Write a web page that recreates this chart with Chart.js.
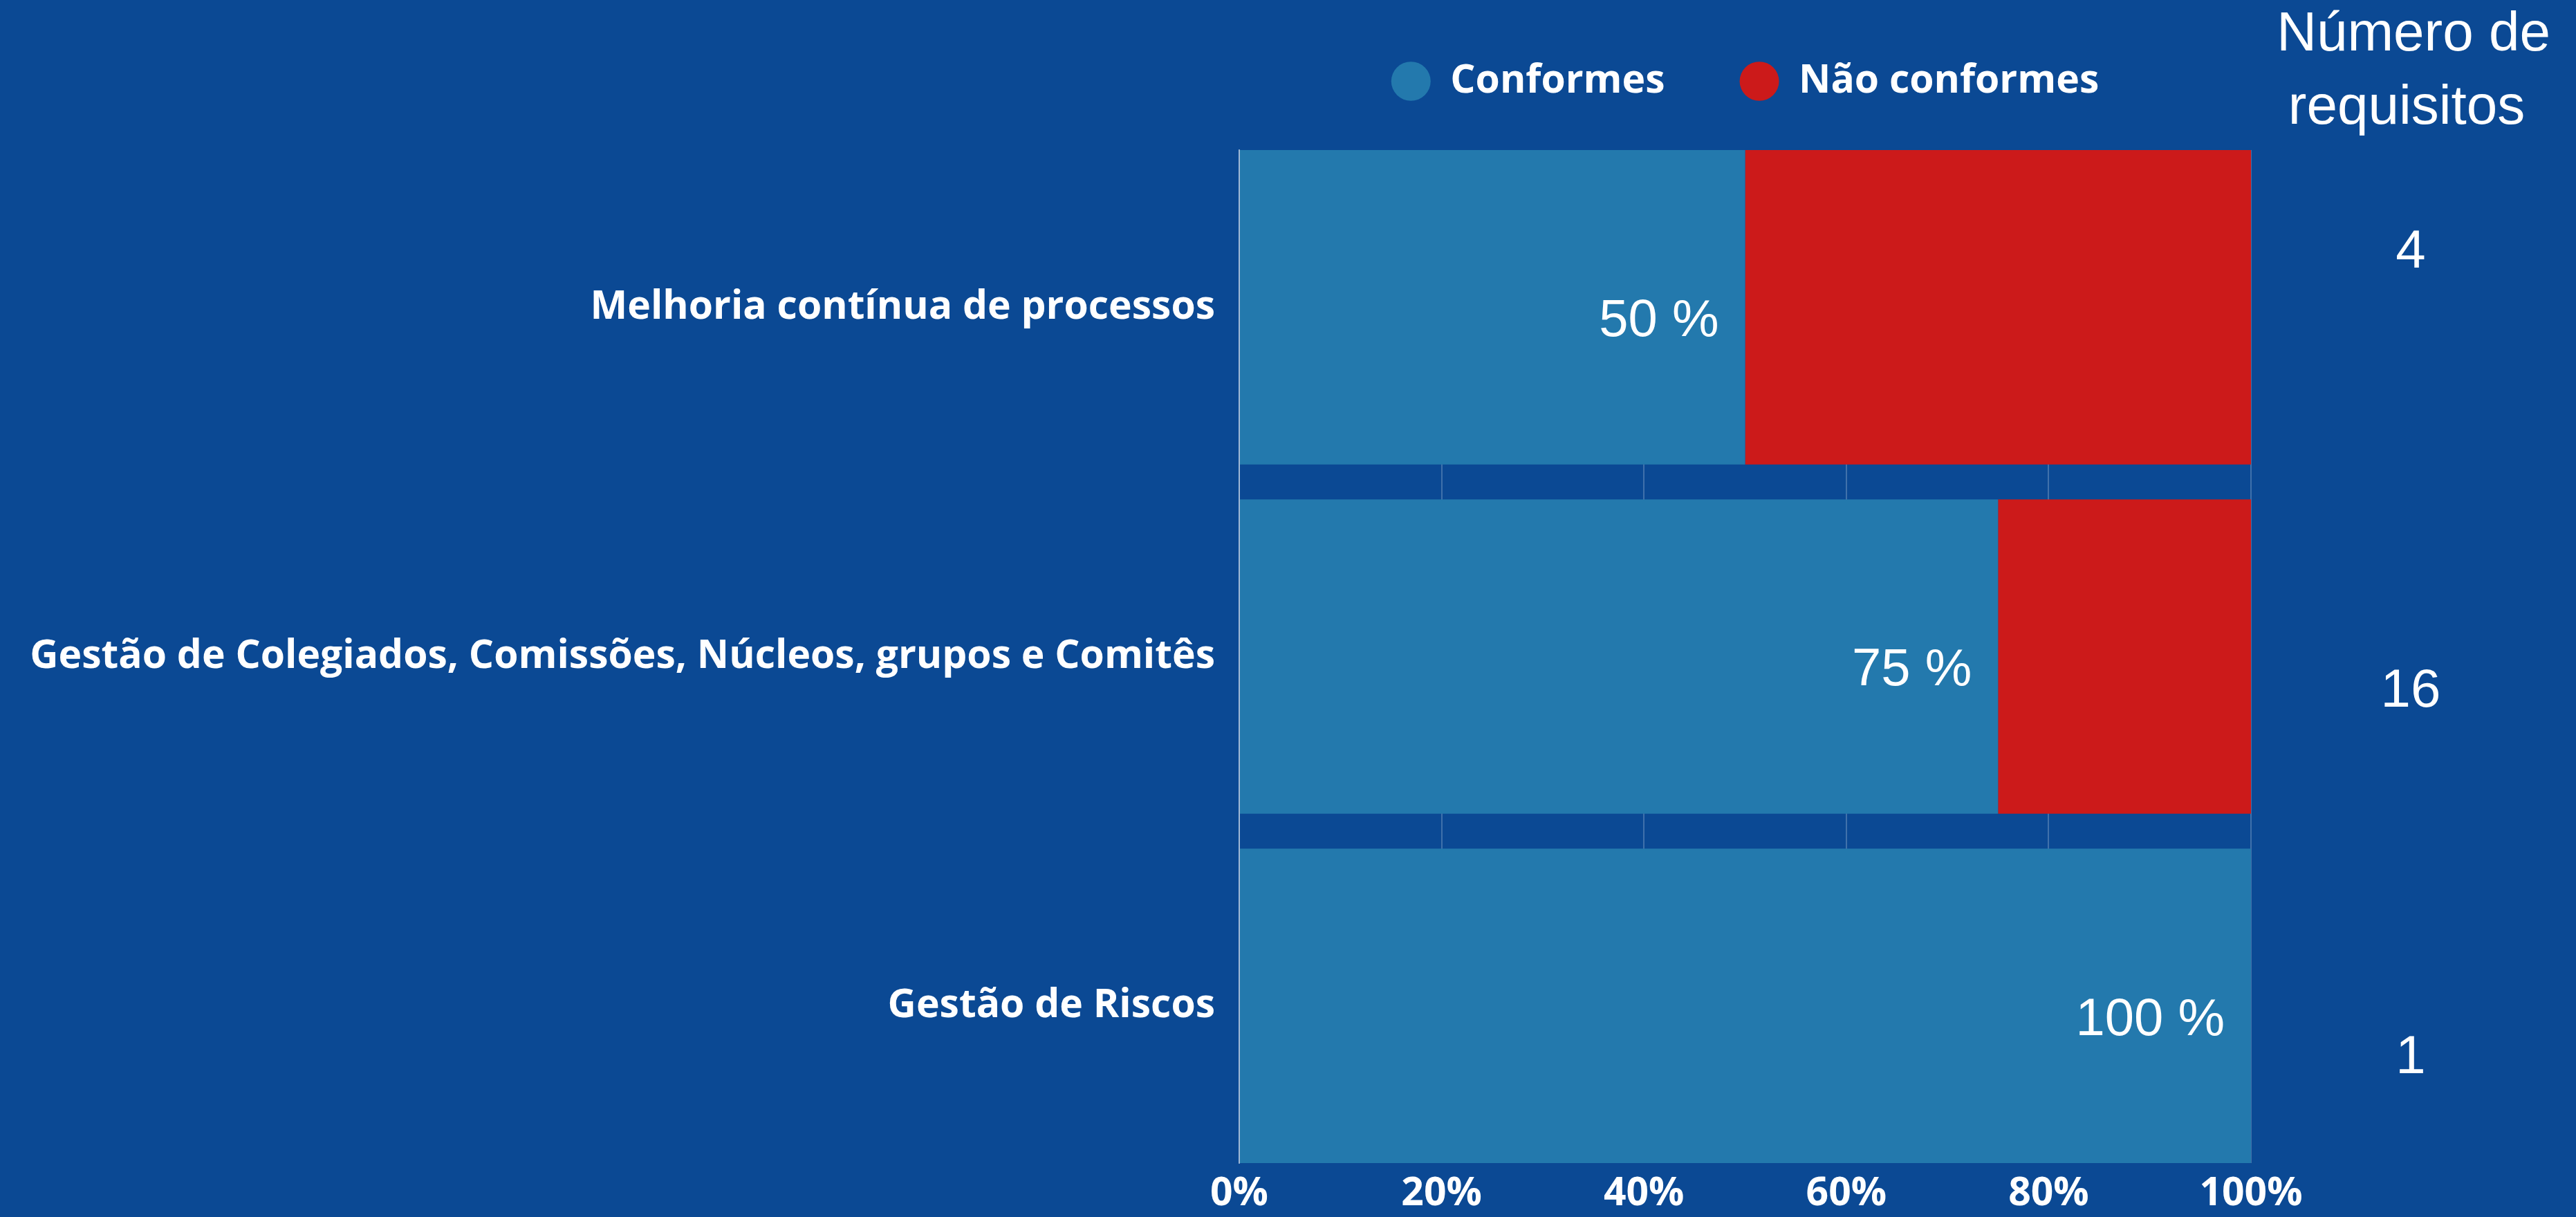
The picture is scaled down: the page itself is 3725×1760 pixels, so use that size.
<!DOCTYPE html>
<html>
<head>
<meta charset="utf-8">
<script src="https://cdn.jsdelivr.net/npm/chart.js@4.4.1/dist/chart.umd.min.js"></script>
<style>
  html, body { margin: 0; padding: 0; background: #0B4994; }
  #wrap { width: 3725px; height: 1760px; }
</style>
</head>
<body>
<div id="wrap"><canvas id="chart" width="3725" height="1760"></canvas></div>
<script>
var categorias = [
  'Melhoria contínua de processos',
  'Gestão de Colegiados, Comissões, Núcleos, grupos e Comitês',
  'Gestão de Riscos'
];
var conformes = [50, 75, 100];
var naoConformes = [50, 25, 0];
var requisitos = [4, 16, 1];
var xTicks = [0, 20, 40, 60, 80, 100];
// small vertical nudges of the requisitos numbers, as in the original layout
var reqNudge = [-79, 51, 76];

var BOLD = '"Open Sans", "DejaVu Sans", sans-serif';
var LIGHT = '"Liberation Sans", Arial, sans-serif';

var rightColumn = {
  id: 'rightColumn',
  afterDatasetsDraw: function (chart) {
    var ctx = chart.ctx;
    var yScale = chart.scales.y;
    var cx = chart.chartArea.right + 235;
    ctx.save();
    ctx.fillStyle = '#ffffff';
    ctx.textAlign = 'center';

    // header
    ctx.font = '80px ' + LIGHT;
    ctx.textBaseline = 'alphabetic';
    ctx.fillText('Número de', cx, 73);
    ctx.fillText('requisitos', cx - 10, 179);

    // number of requirements per row
    ctx.font = '78px ' + LIGHT;
    ctx.textBaseline = 'middle';
    requisitos.forEach(function (n, i) {
      ctx.fillText(String(n), cx - 4, yScale.getPixelForValue(i) + reqNudge[i]);
    });

    // percentage labels inside the "Conformes" bars
    var meta = chart.getDatasetMeta(0);
    ctx.font = '76px ' + LIGHT;
    ctx.textAlign = 'right';
    meta.data.forEach(function (bar, i) {
      ctx.fillText(conformes[i] + ' %', bar.x - 38, bar.y + 21);
    });
    ctx.restore();
  }
};

var ctx = document.getElementById('chart').getContext('2d');
new Chart(ctx, {
  type: 'bar',
  data: {
    datasets: [{
      label: 'Conformes',
      backgroundColor: '#2379AD',
      data: conformes.map(function (v, i) { return { x: v, y: i }; })
    }, {
      label: 'Não conformes',
      backgroundColor: '#CC1A1A',
      data: naoConformes.map(function (v, i) { return { x: v, y: i }; })
    }]
  },
  options: {
    indexAxis: 'y',
    responsive: false,
    animation: false,
    devicePixelRatio: 1,
    categoryPercentage: 1,
    barPercentage: 0.9,
    layout: { padding: { top: -19, right: 470, bottom: 0, left: 0 } },
    plugins: {
      tooltip: { enabled: false },
      legend: {
        position: 'top',
        fullSize: false,
        labels: {
          usePointStyle: true,
          pointStyle: 'circle',
          boxHeight: 40,
          pointStyleWidth: 57,
          padding: 108,
          color: '#ffffff',
          font: { family: BOLD, size: 57, weight: 'bold' }
        }
      }
    },
    scales: {
      x: {
        type: 'linear',
        stacked: true,
        min: 0,
        max: 100,
        afterBuildTicks: function (scale) {
          scale.ticks = xTicks.map(function (v) { return { value: v }; });
        },
        afterFit: function (scale) { scale.height = 78; },
        grid: { color: 'rgba(255,255,255,0.22)', lineWidth: 2, drawTicks: false },
        border: { display: false },
        ticks: {
          padding: 11,
          color: '#ffffff',
          font: { family: BOLD, size: 57, weight: 'bold' },
          callback: function (v) { return v + '%'; }
        }
      },
      // empty spacer between the legend and the bars
      xTop: {
        type: 'linear',
        axis: 'x',
        position: 'top',
        afterFit: function (scale) { scale.height = 61; },
        grid: { display: false, drawTicks: false },
        border: { display: false },
        ticks: { display: false }
      },
      y: {
        type: 'linear',
        stacked: true,
        reverse: true,
        offset: false,
        min: -0.45,
        max: 2.45,
        afterBuildTicks: function (scale) {
          scale.ticks = categorias.map(function (c, i) { return { value: i }; });
        },
        afterFit: function (scale) { scale.width = 1792; },
        grid: { display: false, drawTicks: false, offset: false },
        border: { display: true, color: 'rgba(255,255,255,0.5)', width: 2 },
        ticks: {
          padding: 35,
          color: '#ffffff',
          font: { family: BOLD, size: 57, weight: 'bold' },
          callback: function (v) { return categorias[v]; }
        }
      }
    }
  },
  plugins: [rightColumn]
});
</script>
</body>
</html>
